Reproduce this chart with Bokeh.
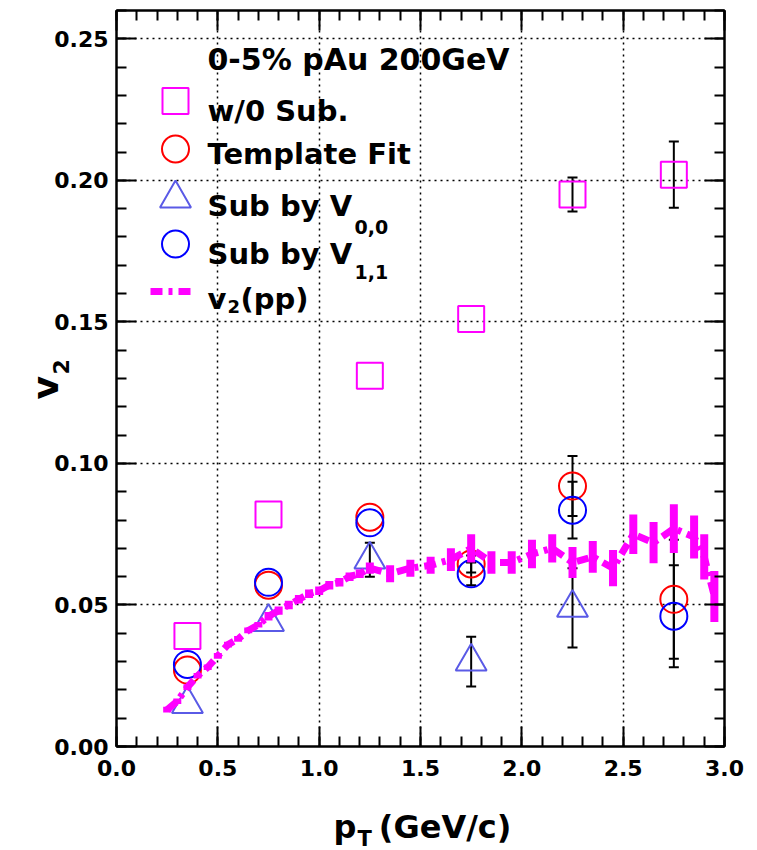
import numpy as np
from bokeh.plotting import figure
from bokeh.models import (ColumnDataSource, Whisker, TeeHead, Label, LinearAxis,
                          FixedTicker, Range1d, CustomLabelingPolicy)
from bokeh.embed import file_html
from bokeh.resources import INLINE

# ---------------- data ----------------
pt = [0.35, 0.75, 1.25, 1.75, 2.25, 2.75]
v2_nosub = [0.039, 0.082, 0.131, 0.151, 0.195, 0.202]
v2_nosub_err = [0.001, 0.001, 0.001, 0.002, 0.006, 0.0117]
v2_template = [0.027, 0.057, 0.081, 0.0645, 0.092, 0.052]
v2_template_err = [0.001, 0.001, 0.002, 0.003, 0.0106, 0.021]
pt_sub00 = [0.35, 0.75, 1.25, 1.75, 2.25]
v2_sub00 = [0.015, 0.044, 0.066, 0.030, 0.049]
v2_sub00_err = [0.001, 0.002, 0.006, 0.0088, 0.014]
v2_sub11 = [0.029, 0.058, 0.079, 0.061, 0.0835, 0.046]
v2_sub11_err = [0.001, 0.001, 0.002, 0.004, 0.010, 0.018]

pp_pt = [0.25, 0.30, 0.35, 0.40, 0.45, 0.50, 0.55, 0.60, 0.65, 0.70,
         0.75, 0.80, 0.85, 0.90, 0.95, 1.00, 1.05, 1.10, 1.15, 1.20,
         1.25, 1.35, 1.45, 1.55, 1.65, 1.75, 1.85, 1.95, 2.05, 2.15,
         2.25, 2.35, 2.45, 2.55, 2.65, 2.75, 2.85, 2.90, 2.95]
pp_v2 = [0.013, 0.016, 0.021, 0.025, 0.028, 0.032, 0.036, 0.038, 0.041, 0.043,
         0.046, 0.048, 0.050, 0.052, 0.054, 0.055, 0.057, 0.058, 0.060, 0.061,
         0.063, 0.061, 0.063, 0.064, 0.066, 0.070, 0.065, 0.065, 0.068, 0.070,
         0.065, 0.067, 0.063, 0.075, 0.072, 0.077, 0.074, 0.067, 0.053]
pp_err = [0.001, 0.001, 0.001, 0.001, 0.001, 0.001, 0.001, 0.001, 0.001, 0.001,
          0.0015, 0.0015, 0.0015, 0.0015, 0.0015, 0.0015, 0.0015, 0.0015, 0.0015, 0.0015,
          0.002, 0.003, 0.003, 0.003, 0.004, 0.005, 0.004, 0.004, 0.005, 0.005,
          0.0055, 0.0056, 0.0064, 0.007, 0.0073, 0.0086, 0.0076, 0.008, 0.009]

x_ticks = [0.0, 0.5, 1.0, 1.5, 2.0, 2.5, 3.0]
x_tick_labels = ["0.0", "0.5", "1.0", "1.5", "2.0", "2.5", "3.0"]
y_ticks = [0.00, 0.05, 0.10, 0.15, 0.20, 0.25]
y_tick_labels = ["0.00", "0.05", "0.10", "0.15", "0.20", "0.25"]

header_text = "0-5% pAu 200GeV"

# ---------------- layout ----------------
W, H = 757, 850
FL, FR, FT, FB = 116, 724, 10, 746
XR = (0.0, 3.0)
YR = (0.0, 0.26)
FONT = "DejaVu Sans"
MAGENTA = "#ff00ff"
RED = "#ff0000"
BLUE = "#0000ff"
TRI = "#5a5ae6"


def dx(px):
    return XR[0] + (px - FL) / (FR - FL) * (XR[1] - XR[0])


def dy(py):
    return YR[0] + (FB - py) / (FB - FT) * (YR[1] - YR[0])


p = figure(width=W, height=H, x_range=Range1d(*XR), y_range=Range1d(*YR),
           output_backend="svg", toolbar_location=None,
           min_border_left=FL, min_border_right=W - FR,
           min_border_top=FT, min_border_bottom=H - FB)
p.background_fill_color = "white"
p.border_fill_color = "white"
p.outline_line_color = "black"
p.outline_line_width = 2

bottom_axis = p.below[0]
left_axis = p.left[0]

xt = FixedTicker(ticks=x_ticks, minor_ticks=list(np.round(np.arange(0, 3.0001, 0.1), 2)))
yt = FixedTicker(ticks=y_ticks, minor_ticks=list(np.round(np.arange(0, 0.2601, 0.01), 3)))

bottom_axis.ticker = xt
left_axis.ticker = yt
bottom_axis.major_label_overrides = {t: l for t, l in zip(x_ticks, x_tick_labels)}
left_axis.major_label_overrides = {t: l for t, l in zip(y_ticks, y_tick_labels)}

no_labels = CustomLabelingPolicy(code="for (const i of indices) { indices.unset(i) }\nreturn indices")
top_axis = LinearAxis(ticker=xt, major_label_policy=no_labels)
right_axis = LinearAxis(ticker=yt, major_label_policy=no_labels)
p.add_layout(top_axis, "above")
p.add_layout(right_axis, "right")

for ax in [bottom_axis, left_axis, top_axis, right_axis]:
    ax.axis_line_color = "black"
    ax.axis_line_width = 2
    ax.major_tick_line_color = "black"
    ax.major_tick_line_width = 2
    ax.minor_tick_line_color = "black"
    ax.minor_tick_line_width = 2
    ax.major_tick_in = 20
    ax.major_tick_out = 0
    ax.minor_tick_in = 10
    ax.minor_tick_out = 0
    ax.major_label_text_font = FONT
    ax.major_label_text_font_style = "bold"
    ax.major_label_text_font_size = "22px"
    ax.major_label_text_color = "black"

# hidden-label axes: keep reserved space minimal
top_axis.major_label_text_font_size = "1px"
right_axis.major_label_text_font_size = "1px"
top_axis.major_label_standoff = 0
right_axis.major_label_standoff = 0
bottom_axis.major_label_standoff = 13
left_axis.major_label_standoff = 8

p.xgrid.ticker = xt
p.ygrid.ticker = yt
for g in [p.xgrid[0], p.ygrid[0]]:
    g.grid_line_color = "black"
    g.grid_line_dash = "2 4"
    g.grid_line_width = 1.5
    g.grid_line_alpha = 1.0

# ---------------- data marks ----------------
p.scatter(pt, v2_nosub, marker="square", size=26, fill_color=None,
          line_color=MAGENTA, line_width=2)
p.scatter(pt, v2_template, marker="circle", size=27, fill_color=None,
          line_color=RED, line_width=2)
p.scatter(pt_sub00, v2_sub00, marker="triangle", size=31, fill_color=None,
          line_color=TRI, line_width=2)
p.scatter(pt, v2_sub11, marker="circle", size=27, fill_color=None,
          line_color=BLUE, line_width=2)

# pp reference curve
pp_lo = [v - e for v, e in zip(pp_v2, pp_err)]
pp_hi = [v + e for v, e in zip(pp_v2, pp_err)]
p.line(pp_pt, pp_v2, line_color=MAGENTA, line_width=7, line_dash="12 6 4 6")
p.segment(pp_pt, pp_lo, pp_pt, pp_hi, line_color=MAGENTA, line_width=8)


def add_err(xs, ys, es):
    keep = [(x, y, e) for x, y, e in zip(xs, ys, es) if e >= 0.0028]
    src = ColumnDataSource(dict(x=[k[0] for k in keep],
                                upper=[k[1] + k[2] for k in keep],
                                lower=[k[1] - k[2] for k in keep]))
    w = Whisker(source=src, base="x", upper="upper", lower="lower",
                dimension="height", line_color="black", line_width=2,
                upper_head=TeeHead(size=10, line_width=2, line_color="black"),
                lower_head=TeeHead(size=10, line_width=2, line_color="black"))
    p.add_layout(w)


add_err(pt, v2_nosub, v2_nosub_err)
add_err(pt, v2_template, v2_template_err)
add_err(pt_sub00, v2_sub00, v2_sub00_err)
add_err(pt, v2_sub11, v2_sub11_err)

# ---------------- legend (manual, ROOT style) ----------------
LEG_X = 175
TXT_X = 207
FS = "29px"

p.scatter([dx(LEG_X)], [dy(100.5)], marker="square", size=26, fill_color=None,
          line_color=MAGENTA, line_width=2)
p.scatter([dx(LEG_X)], [dy(148.5)], marker="circle", size=27, fill_color=None,
          line_color=RED, line_width=2)
p.scatter([dx(LEG_X)], [dy(198)], marker="triangle", size=31, fill_color=None,
          line_color=TRI, line_width=2)
p.scatter([dx(LEG_X)], [dy(243.5)], marker="circle", size=27, fill_color=None,
          line_color=BLUE, line_width=2)
p.line([dx(150), dx(193)], [dy(291), dy(291)], line_color=MAGENTA, line_width=7,
       line_dash="12 6 4 6")


def make_label(px, py, text, size=FS, angle=0.0):
    return Label(x=dx(px), y=dy(py), text=text, text_font=FONT,
                 text_font_style="bold", text_font_size=size,
                 text_color="black", text_baseline="alphabetic",
                 text_align="left", angle=angle)


def lab(px, py, text, size=FS, angle=0.0, side="center"):
    p.add_layout(make_label(px, py, text, size, angle), side)


lab(TXT_X, 59, header_text, "30px")
lab(TXT_X, 110, "w/0 Sub.")
lab(TXT_X, 153, "Template Fit")
lab(TXT_X, 205, "Sub by V")
lab(354, 226, "0,0", "19px")
lab(TXT_X, 253, "Sub by V")
lab(354, 271, "1,1", "19px")
lab(TXT_X, 298, "v")
lab(227, 306, "2", "18px")
lab(240, 298, "(pp)")

# axis titles (placed in side panels so they are not clipped by the frame)
lab(333, 826, "p\u2002\u2009(GeV/c)", "32px", side="below")
lab(357, 838, "T", "21px", side="below")
lab(45, 399, "v", "36px", np.pi / 2, side="left")
lab(60, 374, "2", "22px", np.pi / 2, side="right")

open("out.html", "w").write(file_html(p, INLINE))
